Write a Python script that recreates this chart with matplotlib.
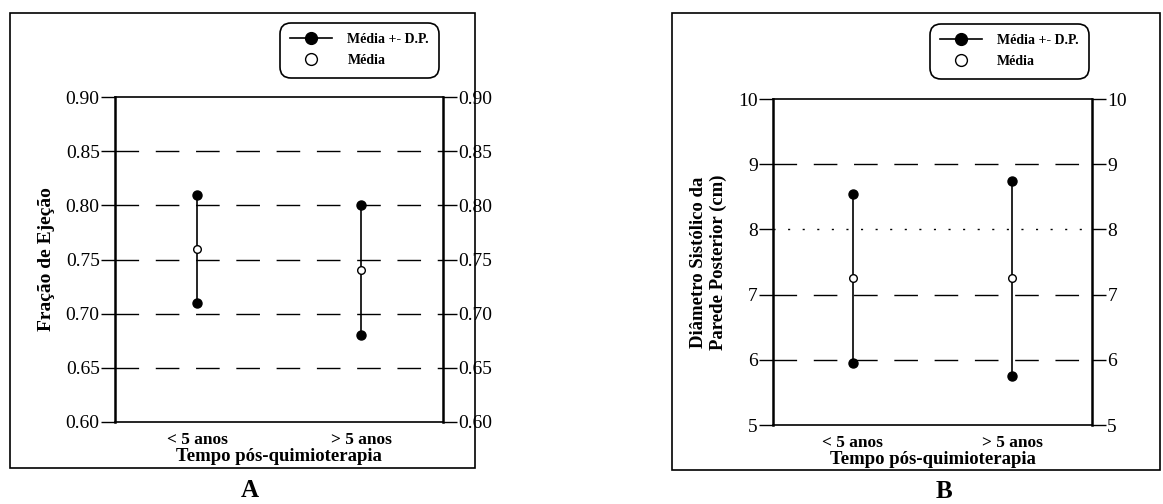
import matplotlib
matplotlib.use('Agg')
import matplotlib.pyplot as plt
from matplotlib.lines import Line2D
from matplotlib.patches import Rectangle
import numpy as np

plt.rcParams['font.family'] = ['Liberation Serif', 'DejaVu Serif']

#%% data
groups = ['< 5 anos', '> 5 anos']

# A - fracao de ejecao
fe_low = [0.71, 0.68]
fe_high = [0.81, 0.80]
fe_mean = [0.76, 0.74]

# B - diametro sistolico parede posterior (cm)
dsp_low = [5.95, 5.75]
dsp_high = [8.55, 8.75]
dsp_mean = [7.25, 7.25]

#%% figure
fig = plt.figure(figsize=(11.63, 5.04), dpi=100)

# outer frames
fig.patches.append(Rectangle((0.0086, 0.071), 0.40, 0.903, transform=fig.transFigure,
                             fill=False, edgecolor='black', lw=1.2))
fig.patches.append(Rectangle((0.578, 0.068), 0.419, 0.906, transform=fig.transFigure,
                             fill=False, edgecolor='black', lw=1.2))


def panel(rect, low, high, mean, ylim, yticks, ylabel, ytickfmt, ylfs, dotted=None):
    ax = fig.add_axes(rect)
    x = np.arange(len(groups)) + 0.5
    for i in range(len(groups)):
        ax.plot([x[i], x[i]], [low[i], high[i]], color='black', lw=1.2, zorder=3)
    ax.plot(x, low, 'o', color='black', ms=6.5, zorder=4)
    ax.plot(x, high, 'o', color='black', ms=6.5, zorder=4)
    ax.plot(x, mean, 'o', mfc='white', mec='black', mew=1.0, ms=5.5, zorder=5)

    for yy in yticks[1:-1]:
        if dotted is not None and yy == dotted:
            ax.axhline(yy, color='black', lw=1.0, dashes=(1.5, 9), zorder=1)
        else:
            ax.axhline(yy, color='black', lw=1.0, dashes=(17, 12), zorder=1)

    ax.set_xlim(0, 2)
    ax.set_ylim(*ylim)
    ax.set_yticks(yticks)
    ax.set_yticklabels([ytickfmt.format(v) for v in yticks])
    ax.set_xticks(x)
    ax.set_xticklabels(groups, fontweight='bold', fontsize=12.5)
    ax.tick_params(axis='x', length=0, pad=7)
    ax.tick_params(axis='y', direction='out', length=10, width=1, labelsize=14,
                   right=True, labelright=True, pad=1)
    for s in ['left', 'right']:
        ax.spines[s].set_linewidth(1.8)
    ax.spines['top'].set_linewidth(1.2)
    ax.spines['bottom'].set_linewidth(1.2)
    ax.set_xlabel('Tempo pós-quimioterapia', fontweight='bold', fontsize=13.5, labelpad=0)
    ax.set_ylabel(ylabel, fontweight='bold', fontsize=ylfs, labelpad=8)
    return ax


axA = panel([0.0989, 0.1627, 0.2820, 0.6448], fe_low, fe_high, fe_mean,
            (0.60, 0.90), [0.60, 0.65, 0.70, 0.75, 0.80, 0.85, 0.90],
            'Fração de Ejeção', '{:.2f}', 14)
axB = panel([0.6647, 0.1567, 0.2743, 0.6468], dsp_low, dsp_high, dsp_mean,
            (5, 10), [5, 6, 7, 8, 9, 10],
            'Diâmetro Sistólico da\nParede Posterior (cm)', '{:.0f}', 13.5, dotted=8)

# legends
handles = [Line2D([], [], color='black', marker='o', ms=8.5, lw=1.2),
           Line2D([], [], color='black', marker='o', mfc='white', ms=8.5, lw=0)]
labels = ['Média +- D.P.', 'Média']
for anchor in [(0.2408, 0.847, 0.137, 0.107), (0.801, 0.845, 0.134, 0.107)]:
    leg = fig.legend(handles, labels, loc='center', bbox_to_anchor=anchor,
                     bbox_transform=fig.transFigure, frameon=True, fancybox=True,
                     edgecolor='black', framealpha=1, handlelength=3.0,
                     prop={'weight': 'bold', 'size': 10}, borderpad=0.45,
                     labelspacing=0.6, handletextpad=1.1, borderaxespad=0)
    leg.get_frame().set_linewidth(1.2)
    leg.get_frame().set_boxstyle('round', pad=0.3, rounding_size=0.8)

fig.text(0.215, 0.004, 'A', fontsize=18, fontweight='bold', ha='center', va='bottom')
fig.text(0.812, 0.002, 'B', fontsize=18, fontweight='bold', ha='center', va='bottom')

fig.savefig('out.png', dpi=100)
